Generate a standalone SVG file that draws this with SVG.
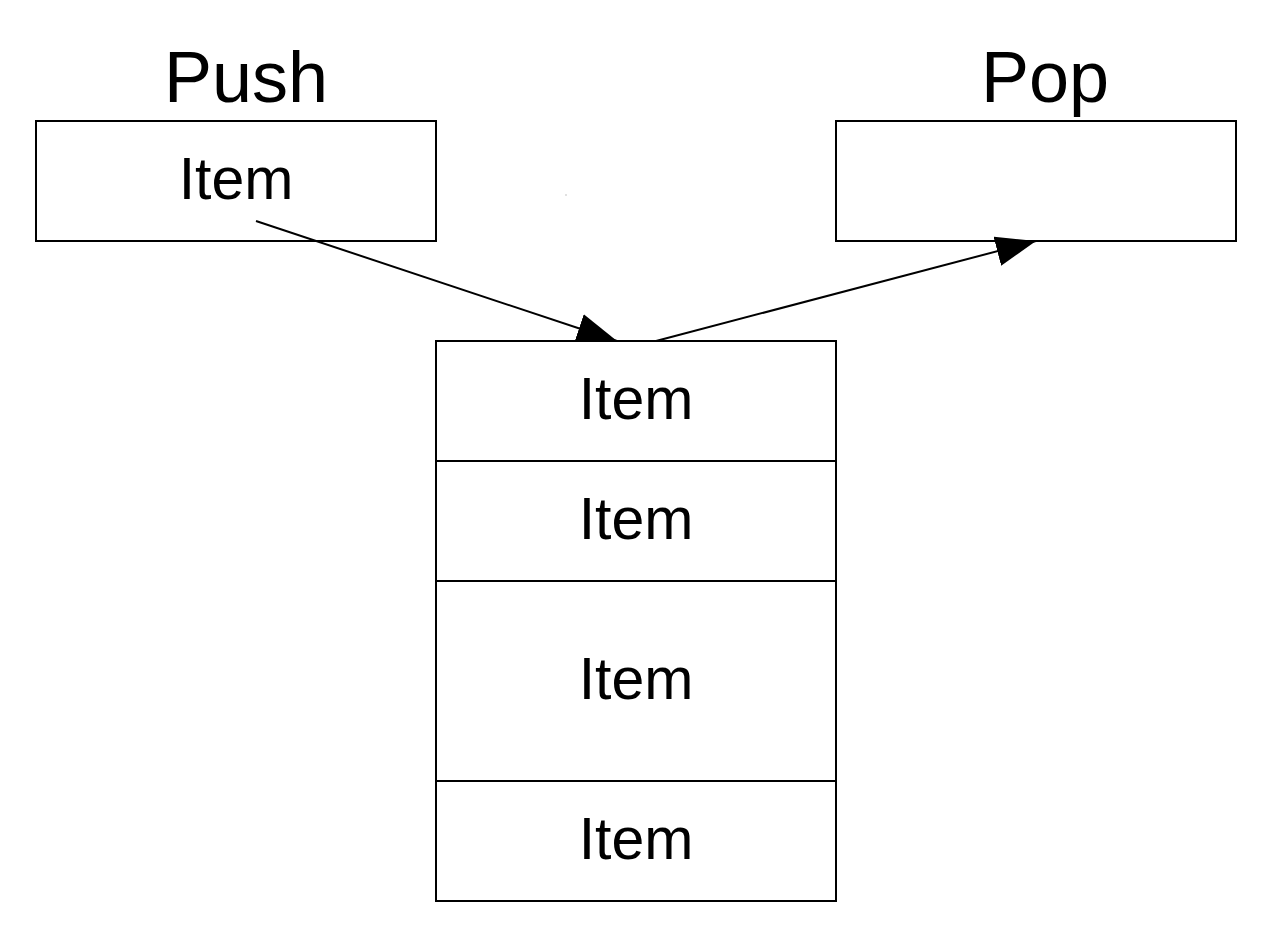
<svg xmlns="http://www.w3.org/2000/svg" width="1275" height="940" viewBox="0 0 1275 940">
<style>
.box{fill:#fff;stroke:#000;stroke-width:2}
.t{font-family:"Liberation Sans",Arial,sans-serif;fill:#000;text-anchor:middle}
.item{font-size:59px}
.title{font-size:72px}
.conn{stroke:#000;stroke-width:2;fill:none}
</style>
<defs>
<marker id="ah" markerUnits="userSpaceOnUse" markerWidth="42" markerHeight="32" viewBox="0 0 42 32" refX="40" refY="15" orient="auto">
<path d="M0,0 L40,15 L0,30 z" fill="#000"/>
</marker>
</defs>
<rect width="1275" height="940" fill="#fff"/>
<g id="push">
<text class="t title" x="246" y="102">Push</text>
<rect class="box" x="36" y="121" width="400" height="120"/>
<text class="t item" x="236" y="199">Item</text>
</g>
<g id="pop">
<text class="t title" x="1045" y="102">Pop</text>
<rect class="box" x="836" y="121" width="400" height="120"/>
</g>
<g id="connectors">
<line class="conn" x1="256" y1="221" x2="617" y2="341" marker-end="url(#ah)"/>
<line class="conn" x1="656" y1="341" x2="1036" y2="241" marker-end="url(#ah)"/>
</g>
<g id="stack">
<g id="stack-item-1">
<rect class="box" x="436" y="341" width="400" height="120"/>
<text class="t item" x="636" y="419">Item</text>
</g>
<g id="stack-item-2">
<rect class="box" x="436" y="461" width="400" height="120"/>
<text class="t item" x="636" y="539">Item</text>
</g>
<g id="stack-item-3">
<rect class="box" x="436" y="581" width="400" height="200"/>
<text class="t item" x="636" y="699">Item</text>
</g>
<g id="stack-item-4">
<rect class="box" x="436" y="781" width="400" height="120"/>
<text class="t item" x="636" y="859">Item</text>
</g>
</g>
<rect x="565.5" y="194.5" width="1" height="1" fill="#888"/>
</svg>
